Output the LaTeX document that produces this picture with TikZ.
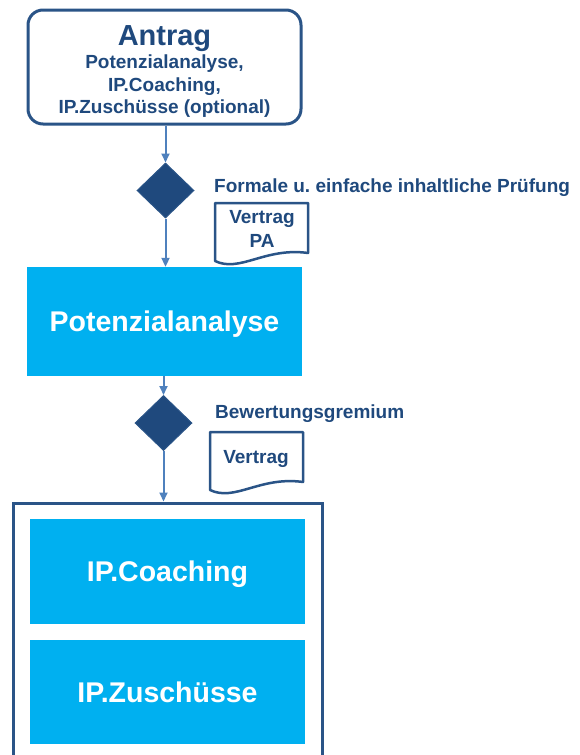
\documentclass[tikz,border=0pt]{standalone}
\usepackage{fontspec}
\setmainfont{Liberation Sans}
\usetikzlibrary{shapes.geometric,arrows.meta}
\definecolor{dkblue}{HTML}{1F497D}
\definecolor{lnblue}{HTML}{2A5487}
\definecolor{arrblue}{HTML}{4F81BD}
\definecolor{cyanbox}{HTML}{00B0F0}
\frenchspacing
\begin{document}
\begin{tikzpicture}[x=1pt,y=-1pt,
 roundbox/.style={draw=lnblue, line width=3pt, rounded corners=15pt, fill=white, minimum width=273pt, minimum height=114pt, inner sep=0pt},
 cyanstep/.style={fill=cyanbox, text=white, font=\bfseries\fontsize{28.5}{32}\selectfont, minimum width=275pt, text height=20.5pt, text depth=0pt, inner sep=0pt},
 decision/.style={diamond, fill=dkblue, draw=lnblue, line width=1pt, minimum width=57pt, minimum height=55pt, inner sep=0pt},
 flow/.style={draw=arrblue, line width=2pt, -{Triangle[length=9pt,width=8pt]}},
 lbl/.style={text=dkblue, font=\bfseries\fontsize{19}{23}\selectfont, inner sep=0pt},
 docline/.style={draw=lnblue, line width=2.5pt, line join=round, fill=white},
 frame/.style={draw=lnblue, line width=3pt, minimum width=309pt, minimum height=267pt, inner sep=0pt},
]
\useasboundingbox (0,0) rectangle (579,755);

% Antrag box
\node[roundbox] (antrag) at (164.5,67) {};
\node[lbl, anchor=base, font=\bfseries\fontsize{29}{32}\selectfont] (antragtitle) at (164.5,45) {Antrag};
\node[lbl, anchor=base] (antrag1) at (164.5,68) {Potenzialanalyse,};
\node[lbl, anchor=base] (antrag2) at (164.5,91) {IP.Coaching,};
\node[lbl, anchor=base] (antrag3) at (164.5,113.5) {IP.Zuschüsse (optional)};

% Decision 1
\node[decision] (d1) at (165.5,190.5) {};
\node[lbl, anchor=base west] (pruefung) at (214,192) {Formale u. einfache inhaltliche Prüfung};

% Document 1
\draw[docline] (215,203) -- (215,261) .. controls (240,273) and (265,247) .. (308,253) -- (308,203) -- cycle;
\node[lbl, anchor=base] (vertragpa1) at (262,223) {Vertrag};
\node[lbl, anchor=base] (vertragpa2) at (262,247) {PA};

% Potenzialanalyse
\node[cyanstep, minimum height=109pt] (pa) at (164.5,321.5) {Potenzialanalyse};

% Decision 2
\node[decision] (d2) at (163.5,423) {};
\node[lbl, anchor=base west] (gremium) at (215,418) {Bewertungsgremium};

% Document 2
\draw[docline] (210,432) -- (210,490) .. controls (235,502) and (260,476) .. (303,482) -- (303,432) -- cycle;
\node[lbl, anchor=base] (vertrag) at (256,463) {Vertrag};

% Outer frame
\node[frame] (outer) at (167.5,636.5) {};
\node[cyanstep, minimum height=105pt] (coaching) at (167.5,571.5) {IP.Coaching};
\node[cyanstep, minimum height=104pt] (zusch) at (167.5,692) {IP.Zuschüsse};

% Connectors
\draw[flow] (antrag.south -| d1.north) -- (d1.north);
\draw[flow] (d1.south) -- (d1.south |- pa.north);
\draw[flow] (pa.south -| d2.north) -- (d2.north);
\draw[flow] (d2.south) -- (d2.south |- outer.north);
\end{tikzpicture}
\end{document}
